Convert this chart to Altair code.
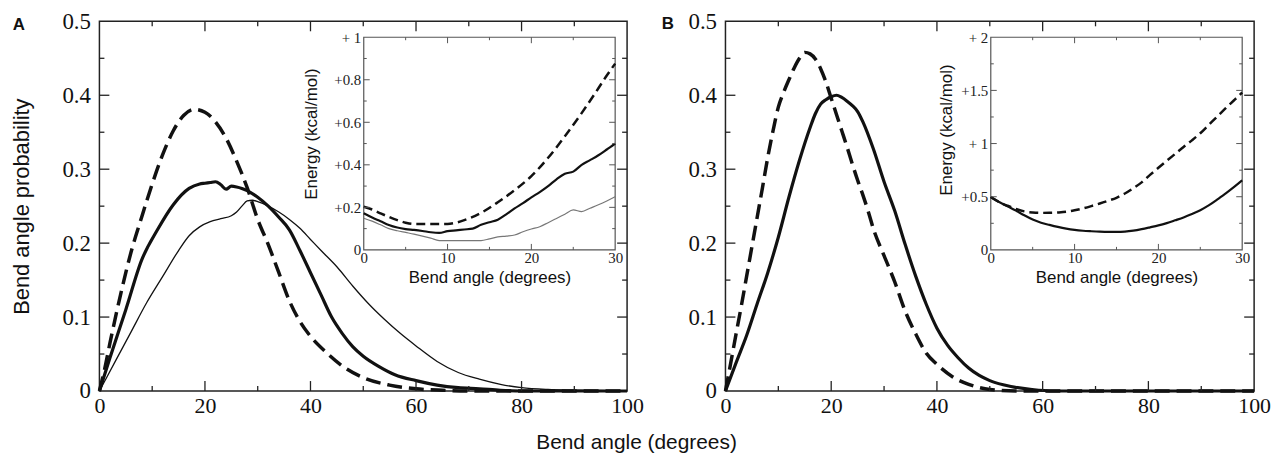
import altair as alt
import pandas as pd

# ---------------- data ----------------
# Panel A, main plot: bend angle probability
a_dash_x = [0, 1, 2, 4, 6, 8, 10, 12, 14, 16, 18, 20, 22, 24, 26, 28, 30, 32, 34, 36, 38, 40, 43, 46, 50, 55, 60, 65, 70, 80, 100]
a_dash_y = [0, 0.03, 0.065, 0.13, 0.188, 0.235, 0.28, 0.32, 0.352, 0.373, 0.381, 0.377, 0.364, 0.342, 0.311, 0.275, 0.232, 0.198, 0.16, 0.122, 0.094, 0.074, 0.052, 0.034, 0.018, 0.008, 0.003, 0.001, 0, 0, 0]
a_thick_x = [0, 2, 5, 8, 11, 14, 17, 19, 20, 21, 22, 23, 24, 25, 26, 27, 28, 30, 32, 34, 36, 38, 40, 42, 44, 46, 48, 50, 53, 56, 60, 64, 68, 72, 76, 80, 100]
a_thick_y = [0, 0.045, 0.11, 0.177, 0.218, 0.252, 0.274, 0.28, 0.281, 0.282, 0.283, 0.279, 0.273, 0.277, 0.276, 0.274, 0.271, 0.262, 0.25, 0.235, 0.218, 0.19, 0.16, 0.13, 0.1, 0.078, 0.06, 0.047, 0.033, 0.022, 0.014, 0.008, 0.0045, 0.003, 0.001, 0, 0]
a_thin_x = [0, 3, 6, 9, 12, 15, 17, 19, 21, 23, 25, 26, 27, 28, 29, 30, 32, 34, 36, 38, 40, 42, 45, 48, 51, 54, 57, 60, 64, 68, 72, 76, 80, 85, 90, 100]
a_thin_y = [0, 0.04, 0.08, 0.12, 0.155, 0.19, 0.21, 0.222, 0.229, 0.233, 0.237, 0.242, 0.25, 0.257, 0.258, 0.256, 0.25, 0.242, 0.232, 0.22, 0.205, 0.19, 0.168, 0.142, 0.118, 0.097, 0.078, 0.061, 0.04, 0.025, 0.016, 0.009, 0.0045, 0.002, 0.001, 0]

# Panel B, main plot
b_dash_x = [0, 1, 2, 3, 4, 5, 6, 7, 8, 9, 10, 11, 12, 13, 14, 15, 16, 17, 18, 19, 20, 21, 22, 23, 24, 25, 26, 27, 28, 30, 32, 34, 36, 38, 40, 43, 46, 50, 55, 100]
b_dash_y = [0, 0.038, 0.077, 0.115, 0.155, 0.195, 0.235, 0.275, 0.316, 0.352, 0.384, 0.404, 0.421, 0.437, 0.45, 0.458, 0.456, 0.449, 0.436, 0.418, 0.396, 0.374, 0.352, 0.33, 0.307, 0.285, 0.265, 0.243, 0.219, 0.183, 0.148, 0.108, 0.077, 0.051, 0.036, 0.019, 0.009, 0.002, 0, 0]
b_solid_x = [0, 2, 4, 6, 8, 10, 12, 14, 16, 17, 18, 19, 20, 21, 22, 23, 24, 25, 26, 28, 30, 32, 34, 36, 38, 40, 42, 44, 46, 48, 50, 54, 58, 62, 100]
b_solid_y = [0, 0.038, 0.075, 0.118, 0.16, 0.208, 0.262, 0.312, 0.356, 0.375, 0.388, 0.394, 0.398, 0.4, 0.397, 0.392, 0.386, 0.378, 0.364, 0.327, 0.283, 0.244, 0.198, 0.155, 0.117, 0.085, 0.062, 0.045, 0.031, 0.021, 0.014, 0.006, 0.002, 0, 0]

# Inset A: energy (kcal/mol)
ia_dash_x = [0, 1, 2, 3, 4, 5, 6, 8, 10, 11, 12, 14, 16, 18, 20, 22, 24, 26, 28, 29, 30]
ia_dash_y = [0.203, 0.19, 0.172, 0.155, 0.14, 0.128, 0.122, 0.122, 0.122, 0.128, 0.14, 0.174, 0.224, 0.281, 0.347, 0.433, 0.534, 0.643, 0.76, 0.82, 0.876]
ia_thick_x = [0, 1, 2, 3, 4, 5, 6, 7, 8, 9, 10, 11, 12, 13, 14, 15, 16, 17, 18, 19, 20, 21, 22, 23, 24, 25, 26, 27, 28, 29, 30]
ia_thick_y = [0.172, 0.152, 0.135, 0.117, 0.105, 0.098, 0.094, 0.089, 0.083, 0.08, 0.088, 0.092, 0.096, 0.1, 0.118, 0.13, 0.142, 0.167, 0.195, 0.22, 0.247, 0.272, 0.3, 0.332, 0.358, 0.368, 0.4, 0.422, 0.445, 0.472, 0.5]
ia_thin_x = [0, 1, 2, 3, 4, 5, 6, 7, 8, 9, 10, 12, 14, 15, 16, 17, 18, 19, 20, 21, 22, 23, 24, 25, 26, 27, 28, 29, 30]
ia_thin_y = [0.149, 0.135, 0.118, 0.1, 0.09, 0.082, 0.074, 0.065, 0.055, 0.044, 0.044, 0.044, 0.044, 0.052, 0.061, 0.065, 0.07, 0.085, 0.098, 0.109, 0.128, 0.148, 0.168, 0.188, 0.18, 0.196, 0.212, 0.23, 0.25]

# Inset B
ib_dash_x = [0, 1, 2, 3, 4, 5, 6, 7, 8, 9, 10, 11, 12, 13, 14, 15, 16, 17, 18, 19, 20, 21, 22, 23, 24, 25, 26, 27, 28, 29, 30]
ib_dash_y = [0.498, 0.45, 0.415, 0.385, 0.362, 0.352, 0.348, 0.349, 0.352, 0.358, 0.372, 0.39, 0.412, 0.436, 0.462, 0.49, 0.53, 0.58, 0.635, 0.705, 0.772, 0.838, 0.903, 0.968, 1.03, 1.097, 1.175, 1.253, 1.33, 1.405, 1.48]
ib_solid_x = [0, 1, 2, 3, 4, 5, 6, 7, 8, 9, 10, 11, 12, 13, 14, 15, 16, 17, 18, 19, 20, 21, 22, 23, 24, 25, 26, 27, 28, 29, 30]
ib_solid_y = [0.498, 0.45, 0.41, 0.37, 0.325, 0.285, 0.256, 0.235, 0.216, 0.2, 0.188, 0.18, 0.175, 0.171, 0.169, 0.169, 0.172, 0.181, 0.195, 0.212, 0.23, 0.252, 0.278, 0.305, 0.337, 0.373, 0.418, 0.472, 0.53, 0.59, 0.654]

# tick values and labels
main_x_labels = [0, 20, 40, 60, 80, 100]
main_x_minor = [10, 30, 50, 70, 90]
main_y_values = [0, 0.1, 0.2, 0.3, 0.4, 0.5]
main_y_text = ["0", "0.1", "0.2", "0.3", "0.4", "0.5"]
main_y_minor = [0.05, 0.15, 0.25, 0.35, 0.45]
inset_x_labels = [0, 10, 20, 30]
inset_x_minor = [5, 15, 25]
ia_y_values = [0, 0.2, 0.4, 0.6, 0.8, 1]
ia_y_text = ["0", "+0.2", "+0.4", "+0.6", "+0.8", "+ 1"]
ia_y_minor = [0.1, 0.3, 0.5, 0.7, 0.9]
ib_y_values = [0, 0.5, 1, 1.5, 2]
ib_y_text = ["0", "+0.5", "+ 1", "+1.5", "+ 2"]
ib_y_minor = [0.25, 0.75, 1.25, 1.75]
panel_letters = ["A", "B"]

# ---------------- layout (pixels inside the plot area) ----------------
PW, PH = 1162, 372
MAIN_A_X = [0, 531]
MAIN_B_X = [630, 1162]
MAIN_Y = [PH, 0]
INSET_A_X = [266, 519]
INSET_B_X = [897, 1150]
INSET_Y = [230, 16]
SERIF = "Liberation Serif"
SANS = "Liberation Sans"
INK = "#111111"


def label_expr(values, texts):
    expr = "''"
    for v, t in reversed(list(zip(values, texts))):
        expr = f"abs(datum.value - {v}) < 1e-6 ? '{t}' : ({expr})"
    return expr


def line_df(xs, ys):
    return pd.DataFrame({"x": xs, "y": ys})


def tick_df(xdom, ydom, xr, yr, xmaj, xmin, ymaj, ymin, lmaj, lmin):
    xpx = abs(xr[1] - xr[0]) / (xdom[1] - xdom[0])
    ypx = abs(yr[1] - yr[0]) / (ydom[1] - ydom[0])
    rows = []
    for vals, L in ((xmaj, lmaj), (xmin, lmin)):
        for v in vals:
            rows.append({"x": v, "x2": v, "y": ydom[0], "y2": ydom[0] + L / ypx})
            rows.append({"x": v, "x2": v, "y": ydom[1], "y2": ydom[1] - L / ypx})
    for vals, L in ((ymaj, lmaj), (ymin, lmin)):
        for v in vals:
            rows.append({"x": xdom[0], "x2": xdom[0] + L / xpx, "y": v, "y2": v})
            rows.append({"x": xdom[1], "x2": xdom[1] - L / xpx, "y": v, "y2": v})
    return pd.DataFrame(rows)


def panel(xdom, ydom, xr, yr, xaxis, yaxis, lines, ticks, frame_fill, frame_stroke, frame_w, tick_w, tick_color):
    """Returns a flat list of charts; each carries its own (identical) explicit scales."""
    def xs():
        return alt.Scale(domain=xdom, range=xr, nice=False, zero=False)

    def ys():
        return alt.Scale(domain=ydom, range=yr, nice=False, zero=False)

    frame_df = pd.DataFrame({"x": [xdom[0]], "x2": [xdom[1]], "y": [ydom[0]], "y2": [ydom[1]]})
    frame = alt.Chart(frame_df).mark_rect(
        fill="white", fillOpacity=1 if frame_fill == "white" else 0, stroke=frame_stroke, strokeWidth=frame_w
    ).encode(
        x=alt.X("x:Q", scale=xs(), axis=xaxis),
        x2="x2:Q",
        y=alt.Y("y:Q", scale=ys(), axis=yaxis),
        y2="y2:Q",
    )
    charts = [frame]
    for df, style in lines:
        charts.append(
            alt.Chart(df).mark_line(interpolate="monotone", **style).encode(
                x=alt.X("x:Q", scale=xs(), axis=None),
                y=alt.Y("y:Q", scale=ys(), axis=None),
                order="x:Q",
            )
        )
    charts.append(
        alt.Chart(ticks).mark_rule(color=tick_color, strokeWidth=tick_w).encode(
            x=alt.X("x:Q", scale=xs(), axis=None),
            x2="x2:Q",
            y=alt.Y("y:Q", scale=ys(), axis=None),
            y2="y2:Q",
        )
    )
    return charts


def main_x_axis(title=True):
    kw = dict(
        orient="bottom", values=main_x_labels, format="d", ticks=False, domain=False, grid=False,
        labelFont=SERIF, labelFontSize=22, labelColor=INK, labelPadding=5, labelFlush=False, labelOverlap=False,
    )
    if title:
        kw.update(title="Bend angle (degrees)", titleFont=SANS, titleFontSize=21, titleFontWeight="normal",
                  titleColor=INK, titleX=540, titleY=52, titleAlign="center", titleBaseline="middle")
    else:
        kw.update(title="")
    return alt.Axis(**kw)


def main_y_axis(offset, title=True):
    kw = dict(
        orient="left", offset=offset, values=main_y_values, labelExpr=label_expr(main_y_values, main_y_text),
        ticks=False, domain=False, grid=False, labelFont=SERIF, labelFontSize=23, labelColor=INK,
        labelPadding=9, labelOverlap=False, labelFlush=False,
    )
    if title:
        kw.update(title="Bend angle probability", titleFont=SANS, titleFontSize=22, titleFontWeight="normal",
                  titleColor=INK, titleX=-78, titleY=186, titleAngle=270, titleAlign="center", titleBaseline="middle")
    else:
        kw.update(title="")
    return alt.Axis(**kw)


def inset_x_axis():
    return alt.Axis(
        orient="bottom", offset=-(PH - INSET_Y[0]), values=inset_x_labels, format="d", ticks=False, domain=False,
        grid=False, labelFont=SERIF, labelFontSize=15, labelColor="#222222", labelPadding=1, labelFlush=False,
        labelOverlap=False, title="Bend angle (degrees)", titleFont=SANS, titleFontSize=17,
        titleFontWeight="normal", titleColor=INK, titleY=28, titleBaseline="middle",
    )


def inset_y_axis(offset, values, texts, title_x, title_y):
    return alt.Axis(
        orient="left", offset=offset, values=values, labelExpr=label_expr(values, texts), ticks=False,
        domain=False, grid=False, labelFont=SERIF, labelFontSize=15, labelColor="#222222", labelPadding=3,
        labelOverlap=False, labelFlush=False, title="Energy (kcal/mol)", titleFont=SANS, titleFontSize=17,
        titleFontWeight="normal", titleColor=INK, titleX=title_x, titleY=title_y, titleAngle=270,
        titleAlign="center", titleBaseline="middle",
    )


dash_main = dict(color=INK, strokeWidth=3.5, strokeDash=[15, 7])
thick_main = dict(color=INK, strokeWidth=3.2)
thin_main = dict(color=INK, strokeWidth=1.3)
dash_in = dict(color=INK, strokeWidth=2.5, strokeDash=[9, 5])
thick_in = dict(color=INK, strokeWidth=2.2)
thin_in = dict(color="#777777", strokeWidth=1.2)

main_ticks_a = tick_df([0, 100], [0, 0.5], MAIN_A_X, MAIN_Y, main_x_labels[1:-1], main_x_minor,
                       main_y_values[1:-1], main_y_minor, 10, 5)
main_ticks_b = tick_df([0, 100], [0, 0.5], MAIN_B_X, MAIN_Y, main_x_labels[1:-1], main_x_minor,
                       main_y_values[1:-1], main_y_minor, 10, 5)
inset_ticks_a = tick_df([0, 30], [0, 1], INSET_A_X, INSET_Y, inset_x_labels[1:-1], inset_x_minor,
                        ia_y_values[1:-1], ia_y_minor, 6, 3)
inset_ticks_b = tick_df([0, 30], [0, 2], INSET_B_X, INSET_Y, inset_x_labels[1:-1], inset_x_minor,
                        ib_y_values[1:-1], ib_y_minor, 6, 3)

main_a = panel([0, 100], [0, 0.5], MAIN_A_X, MAIN_Y, main_x_axis(True), main_y_axis(0, True),
               [(line_df(a_thin_x, a_thin_y), thin_main),
                (line_df(a_thick_x, a_thick_y), thick_main),
                (line_df(a_dash_x, a_dash_y), dash_main)],
               main_ticks_a, "none", "#222222", 1.5, 1.3, "#222222")
main_b = panel([0, 100], [0, 0.5], MAIN_B_X, MAIN_Y, main_x_axis(False), main_y_axis(-MAIN_B_X[0], False),
               [(line_df(b_solid_x, b_solid_y), thick_main),
                (line_df(b_dash_x, b_dash_y), dash_main)],
               main_ticks_b, "none", "#222222", 1.5, 1.3, "#222222")
inset_a = panel([0, 30], [0, 1], INSET_A_X, INSET_Y, inset_x_axis(),
                inset_y_axis(-INSET_A_X[0], ia_y_values, ia_y_text, -53, 113),
                [(line_df(ia_thin_x, ia_thin_y), thin_in),
                 (line_df(ia_thick_x, ia_thick_y), thick_in),
                 (line_df(ia_dash_x, ia_dash_y), dash_in)],
                inset_ticks_a, "white", "#555555", 1.2, 1.0, "#555555")
inset_b = panel([0, 30], [0, 2], INSET_B_X, INSET_Y, inset_x_axis(),
                inset_y_axis(-INSET_B_X[0], ib_y_values, ib_y_text, -45, 109),
                [(line_df(ib_solid_x, ib_solid_y), thick_in),
                 (line_df(ib_dash_x, ib_dash_y), dash_in)],
                inset_ticks_b, "white", "#555555", 1.2, 1.0, "#555555")

letter_a = alt.Chart(pd.DataFrame({"t": [panel_letters[0]]})).mark_text(
    font=SANS, fontSize=17, fontWeight="bold", color=INK, align="center", baseline="middle"
).encode(text="t:N", x=alt.value(-81), y=alt.value(4))
letter_b = alt.Chart(pd.DataFrame({"t": [panel_letters[1]]})).mark_text(
    font=SANS, fontSize=17, fontWeight="bold", color=INK, align="center", baseline="middle"
).encode(text="t:N", x=alt.value(572), y=alt.value(3))

chart = (
    alt.layer(*(main_a + inset_a + main_b + inset_b), letter_a, letter_b)
    .resolve_scale(x="independent", y="independent")
    .properties(
        width=PW,
        height=PH,
        autosize=alt.AutoSizeParams(type="none"),
        padding={"left": 92, "top": 12, "right": 19, "bottom": 64},
        background="white",
    )
    .configure_view(stroke=None)
)

chart.save("out.html", embed_options={"renderer": "svg", "actions": False})
